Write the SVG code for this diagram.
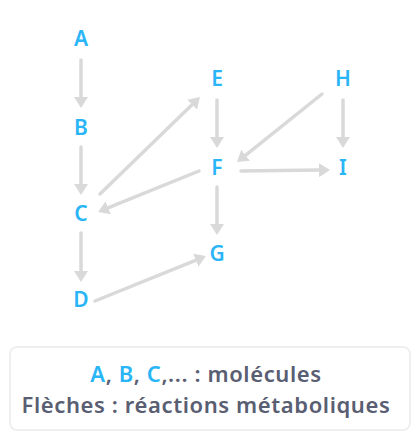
<svg xmlns="http://www.w3.org/2000/svg" width="419" height="438" viewBox="0 0 419 438">
<style>
.n{font-family:"Noto Sans",Lato,sans-serif;font-weight:600;font-size:21px;fill:#29b5f6;text-anchor:middle}
.c line{stroke:#d9d9d9;stroke-width:3.5;stroke-linecap:round;marker-end:url(#ah)}
.lg{font-family:"Noto Sans",Lato,sans-serif;font-weight:600;font-size:22px;letter-spacing:0.6px;fill:#595e72;text-anchor:middle}
.b{fill:#29b5f6}
</style>
<defs>
<marker id="ah" markerUnits="userSpaceOnUse" markerWidth="12" markerHeight="14" refX="1" refY="7" orient="auto">
<path d="M0,0 L11,7 L0,14 z" fill="#d9d9d9"/>
</marker>
</defs>
<rect width="419" height="438" fill="#fff"/>
<g id="connectors" class="c">
<line x1="81" y1="60" x2="81" y2="98"/>
<line x1="81" y1="147" x2="81" y2="185"/>
<line x1="81" y1="233" x2="81" y2="272"/>
<line x1="217" y1="100" x2="217" y2="138"/>
<line x1="217" y1="187" x2="217" y2="225"/>
<line x1="343" y1="100" x2="343" y2="138"/>
<line x1="100" y1="194" x2="192.8" y2="104"/>
<line x1="199" y1="171" x2="107.3" y2="208.2"/>
<line x1="322" y1="94" x2="244.8" y2="155.8"/>
<line x1="241" y1="171" x2="320" y2="170.1"/>
<line x1="95" y1="301" x2="196.7" y2="259.8"/>
</g>
<g id="A"><text class="n" x="81" y="46">A</text></g>
<g id="B"><text class="n" x="81" y="135">B</text></g>
<g id="C"><text class="n" x="81" y="221">C</text></g>
<g id="D"><text class="n" x="81" y="307">D</text></g>
<g id="E"><text class="n" x="217" y="86">E</text></g>
<g id="F"><text class="n" x="217" y="175">F</text></g>
<g id="G"><text class="n" x="217" y="261">G</text></g>
<g id="H"><text class="n" x="343" y="86">H</text></g>
<g id="I"><text class="n" x="343" y="175">I</text></g>
<g id="legend">
<rect x="10" y="347" width="400" height="83" rx="7" fill="#fff" stroke="#efefef" stroke-width="2"/>
<text class="lg" x="206" y="382"><tspan class="b">A</tspan>, <tspan class="b">B</tspan>, <tspan class="b">C</tspan>,... : molécules</text>
<text class="lg" x="206" y="413">Flèches : réactions métaboliques</text>
</g>
</svg>
